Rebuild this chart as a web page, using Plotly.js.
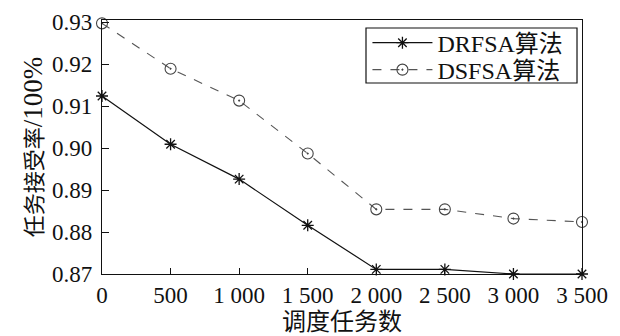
<!DOCTYPE html>
<html>
<head>
<meta charset="utf-8">
<script src="https://cdn.plot.ly/plotly-3.0.1.min.js"></script>
<style>html,body{margin:0;padding:0;background:#fff;}#chart{width:620px;height:336px;}</style>
</head>
<body>
<div id="chart"></div>
<script>
var taskCounts = [0, 500, 1000, 1500, 2000, 2500, 3000, 3500];
var drfsa = [0.9124, 0.9009, 0.8926, 0.8816, 0.8711, 0.8711, 0.8700, 0.8700];
var dsfsa = [0.9297, 0.9189, 0.9113, 0.8987, 0.8854, 0.8854, 0.8832, 0.8824];
var xTickLabels = ["0", "500", "1 000", "1 500", "2 000", "2 500", "3 000", "3 500"];
var yTicks = [0.87, 0.88, 0.89, 0.90, 0.91, 0.92, 0.93];
var seriesNames = ["DRFSA算法", "DSFSA算法"];

var fontFam = "Liberation Serif, Noto Sans CJK SC";

var traces = [
  {
    x: taskCounts, y: drfsa, name: seriesNames[0], type: 'scatter', mode: 'lines+markers',
    line: {color: '#111', width: 1.2},
    marker: {symbol: 'asterisk-open', size: 10, color: '#111', line: {color: '#111', width: 1.3}},
    cliponaxis: false, legend: 'legend'
  },
  {
    x: taskCounts, y: dsfsa, name: seriesNames[1], type: 'scatter', mode: 'lines+markers',
    line: {color: '#555', width: 1.1, dash: 'dash'},
    marker: {symbol: 'circle-open-dot', size: 11, color: '#444', line: {color: '#444', width: 1.1}},
    cliponaxis: false, legend: 'legend2'
  }
];

var legendCommon = {
  xanchor: 'left', yanchor: 'middle',
  borderwidth: 0, bgcolor: 'rgba(0,0,0,0)',
  font: {family: fontFam, size: 24, color: '#111'},
  itemwidth: 60
};

var layout = {
  width: 620, height: 336,
  margin: {l: 102, r: 38, t: 20, b: 62},
  paper_bgcolor: '#fff', plot_bgcolor: '#fff',
  font: {family: fontFam, size: 22, color: '#111'},
  showlegend: true,
  legend: Object.assign({x: 0.553, y: 0.909}, legendCommon),
  legend2: Object.assign({x: 0.553, y: 0.803}, legendCommon),
  shapes: [{
    type: 'rect', xref: 'paper', yref: 'paper',
    x0: 0.55, x1: 0.9896, y0: 0.752, y1: 0.9685,
    line: {color: '#111', width: 1.2}, fillcolor: 'rgba(0,0,0,0)', layer: 'above'
  }],
  xaxis: {
    range: [0, 3500],
    tickvals: taskCounts, ticktext: xTickLabels,
    ticks: 'inside', ticklen: 6, tickcolor: '#111', tickwidth: 1,
    showline: true, linecolor: '#111', linewidth: 1.2, mirror: true,
    showgrid: false, zeroline: false,
    tickfont: {family: fontFam, size: 23, color: '#111'},
    title: {text: '调度任务数', font: {family: fontFam, size: 24, color: '#111'}, standoff: 6}
  },
  yaxis: {
    range: [0.87, 0.9305],
    tickvals: yTicks, tickformat: '.2f',
    ticks: 'inside', ticklen: 7, tickcolor: '#111', tickwidth: 1,
    ticklabelstandoff: 4,
    showline: true, linecolor: '#111', linewidth: 1.2, mirror: true,
    showgrid: false, zeroline: false,
    tickfont: {family: fontFam, size: 23, color: '#111'},
    title: {text: '任务接受率<span style="font-size:27px">/100%</span>', font: {family: fontFam, size: 22, color: '#111'}, standoff: 3}
  }
};

Plotly.newPlot('chart', traces, layout, {displayModeBar: false, staticPlot: true});
</script>
</body>
</html>
